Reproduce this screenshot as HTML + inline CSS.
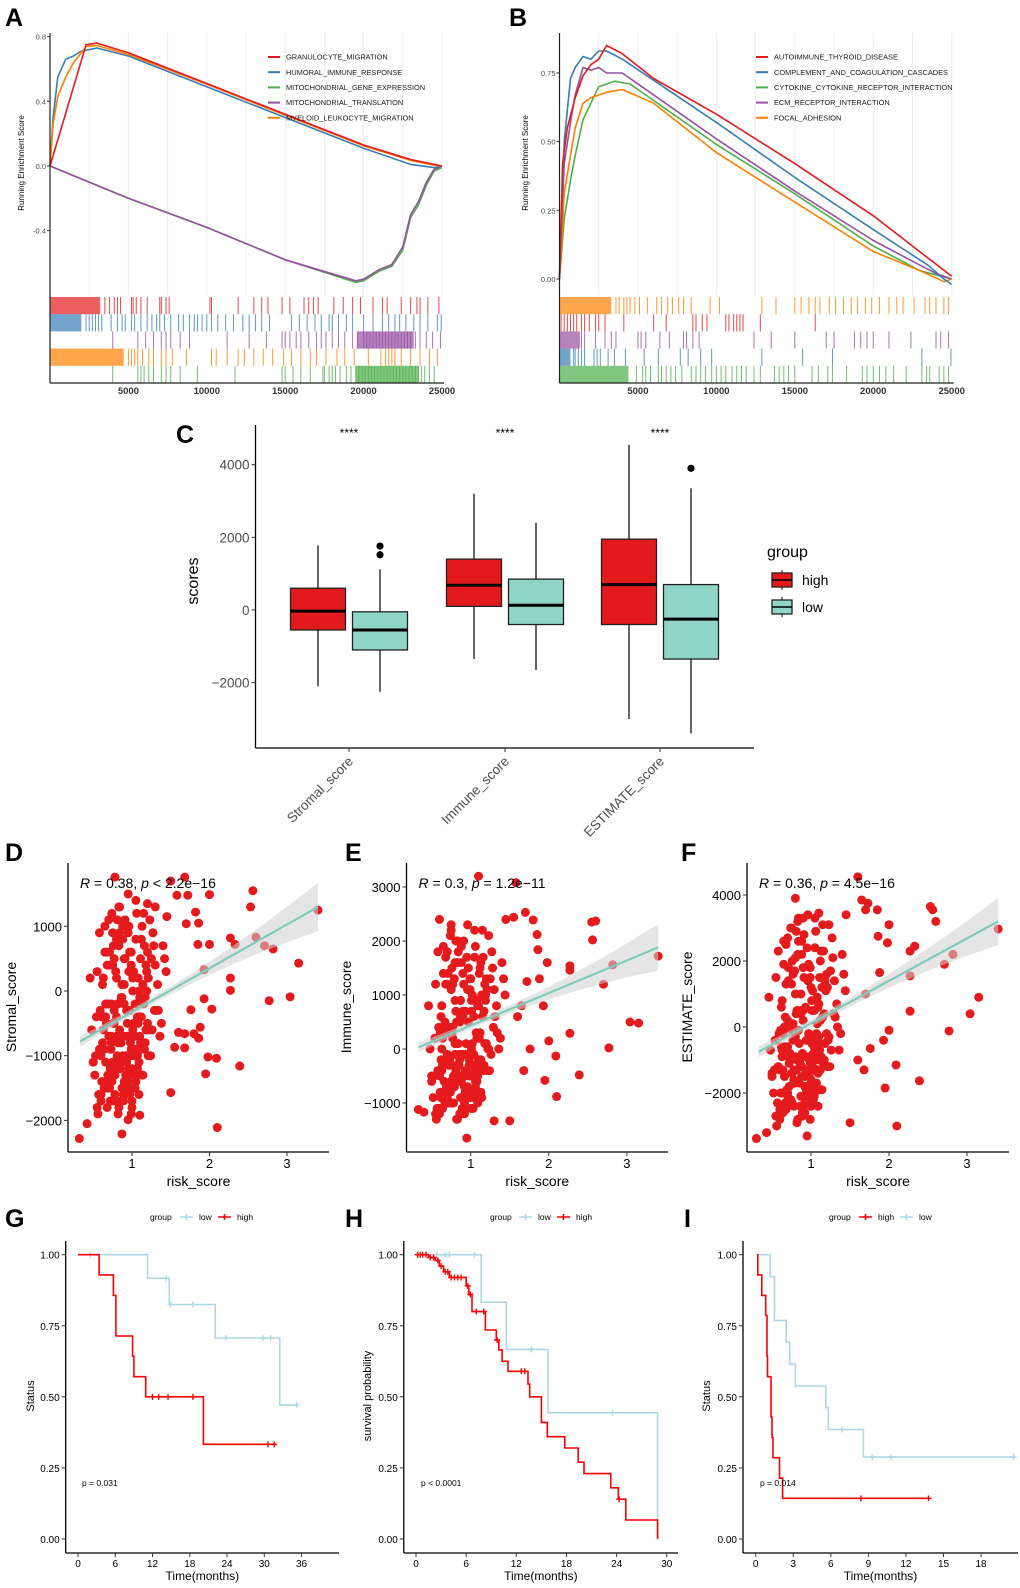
<!DOCTYPE html>
<html><head><meta charset="utf-8">
<style>
html,body{margin:0;padding:0;background:#fff;}
svg{display:block;font-family:"Liberation Sans",Arial,sans-serif;}
</style></head>
<body>
<svg id="fig" xmlns="http://www.w3.org/2000/svg" width="1020" height="1588" viewBox="0 0 1020 1588">
<rect x="0" y="0" width="1020" height="1588" fill="#fff"/>
</svg>
<script>
// ================= DATA =================
const aNames=["GRANULOCYTE_MIGRATION","HUMORAL_IMMUNE_RESPONSE","MITOCHONDRIAL_GENE_EXPRESSION","MITOCHONDRIAL_TRANSLATION","MYELOID_LEUKOCYTE_MIGRATION"];
const aColors=["#e41a1c","#377eb8","#4daf4a","#984ea3","#ff7f00"];
const aRankRed=[0,2300,3000,5000,10000,15000,20000,23000,24500,25000];
const aEsRed=[0,0.75,0.76,0.70,0.51,0.32,0.13,0.04,0.01,0];
const aRankBlue=[0,200,500,1000,1500,2000,3000,5000,10000,15000,20000,23000,24500,25000];
const aEsBlue=[0,0.30,0.55,0.66,0.68,0.71,0.73,0.68,0.49,0.30,0.11,0.01,-0.01,0];
const aRankOrange=[0,200,500,1000,1500,2000,2300,3000,5000,10000,15000,20000,23000,24500,25000];
const aEsOrange=[0,0.26,0.43,0.55,0.64,0.70,0.74,0.745,0.69,0.505,0.315,0.125,0.035,0.005,0];
const aRankPurple=[0,5000,10000,15000,19500,20000,21000,21800,22500,23000,23500,24000,24500,25000];
const aEsPurple=[0,-0.2,-0.38,-0.58,-0.71,-0.70,-0.64,-0.61,-0.5,-0.3,-0.22,-0.1,-0.02,0];
const aRankGreen=[0,5000,10000,15000,19500,20000,21000,21800,22500,23000,23500,24000,24500,25000];
const aEsGreen=[0,-0.2,-0.38,-0.58,-0.72,-0.71,-0.65,-0.62,-0.52,-0.32,-0.24,-0.12,-0.03,-0.01];
const aRugRed=[3500,3800,4100,4300,4500,5200,5300,5500,5800,6200,7000,7100,7400,7600,10200,10300,12000,13000,13500,13900,14800,15300,16200,16500,16800,17100,18100,18700,19300,19800,20600,21200,21500,22400,23000,23400,23600,24100,24800];
const aBlockRed=[[0,3200]];
const aRugBlue=[2300,2500,2700,2900,3100,3300,3900,4300,4600,4800,5200,5400,5800,6200,6500,6800,7000,7300,7700,8200,8500,8900,9200,9400,9700,10000,10300,10700,11200,11700,12300,12700,13100,13500,14000,15400,15900,16400,16900,17300,17800,18000,18400,18900,19300,20000,20600,21200,21600,22000,22300,22700,23200,23600,24100,24700,24950];
const aBlockBlue=[[0,2000]];
const aRugPurple=[4000,5600,6100,6600,7100,7400,7700,8300,8900,11300,12700,13800,14800,15000,15300,15700,16000,16500,17000,17300,17600,18000,18400,18800,19300,19600,20000,20200,20400,20600,20800,21000,21200,21400,21600,21800,22000,22200,22400,22600,22800,23000,23300,23600,24000,24400,24900];
const aBlockPurple=[[19600,23200]];
const aRugOrange=[5000,5200,5400,5600,5900,6300,6600,7100,7400,7800,8700,10300,10600,11300,12000,12400,13000,13600,14200,14900,15400,16000,16600,17000,17600,18300,18800,19400,20300,21100,21400,21600,21800,22000,22400,23000,23600,24200,24700];
const aBlockOrange=[[0,4700]];
const aRugGreen=[4000,5600,5800,6000,6300,6600,7100,7400,7700,8300,9400,11800,14800,15000,15500,16000,16600,17400,17500,17800,18000,18200,18500,18900,19200,19500,19700,19900,20100,20300,20500,20700,20900,21100,21300,21500,21700,21900,22100,22300,22500,22700,22900,23100,23300,23500,23700,23900,24200,24500];
const aBlockGreen=[[19500,23500]];

const bNames=["AUTOIMMUNE_THYROID_DISEASE","COMPLEMENT_AND_COAGULATION_CASCADES","CYTOKINE_CYTOKINE_RECEPTOR_INTERACTION","ECM_RECEPTOR_INTERACTION","FOCAL_ADHESION"];
const bRankRed=[0,200,500,1000,1500,2000,2500,2800,3000,4000,6000,10000,15000,20000,25000];
const bEsRed=[0,0.42,0.55,0.66,0.74,0.78,0.80,0.83,0.85,0.82,0.73,0.60,0.42,0.23,0.01];
const bRankBlue=[0,300,700,1000,1500,2000,2500,3000,4000,10000,15000,20000,23500,24500,25000];
const bEsBlue=[0,0.50,0.73,0.77,0.81,0.80,0.83,0.83,0.80,0.57,0.37,0.18,0.05,0,-0.02];
const bRankGreen=[0,300,700,1000,1500,2000,2500,3500,4500,10000,15000,20000,23000,25000];
const bEsGreen=[0,0.22,0.36,0.45,0.58,0.64,0.70,0.72,0.71,0.49,0.31,0.12,0.03,0];
const bRankPurple=[0,300,700,1000,1500,2000,2500,3000,4000,10000,15000,20000,23000,24000,25000];
const bEsPurple=[0,0.42,0.57,0.67,0.77,0.76,0.77,0.75,0.75,0.51,0.32,0.14,0.05,0.02,0];
const bRankOrange=[0,300,700,1000,1500,2000,3000,4000,6000,10000,15000,20000,23000,24500,25000];
const bEsOrange=[0,0.31,0.45,0.55,0.64,0.66,0.68,0.69,0.64,0.46,0.28,0.10,0.03,-0.01,0];
const bRugOrange=[3600,3800,4100,4300,4500,4800,5100,5600,6200,6500,6900,7200,7600,7900,8400,9600,10200,12900,13800,15000,15400,15900,16300,16600,17200,17600,18100,18600,19000,19500,19900,20400,21000,21500,21900,22600,23300,23600,24000,24500,24800];
const bBlockOrange=[[0,3300]];
const bRugRed=[0,100,300,500,700,900,1100,1400,1600,1900,2300,2500,2900,4100,6000,6800,8500,8700,9100,9400,10600,10800,11100,11300,11500,11700,12800,16300];
const bBlockRed=[];
const bRugPurple=[1400,1600,2300,2900,3300,3600,5000,5200,5500,6400,7000,7900,8100,8500,8900,12400,13500,15000,17000,17500,18800,19200,19600,20000,21000,22400,24000,24300,24800];
const bBlockPurple=[[0,1300]];
const bRugBlue=[900,1000,1200,1400,1600,2200,2400,2600,3100,3500,4200,5400,6300,7700,8200,9000,9700,12900,15500,17400,23100,24950];
const bBlockBlue=[[0,700]];
const bRugGreen=[4900,5300,5500,5800,6300,6500,6800,7100,7400,7800,8400,8700,9000,9300,9700,10000,10300,10600,11000,11300,11600,11900,12400,12800,13700,14000,14300,14600,15000,16100,16500,17100,17400,18300,19300,19600,20000,20400,20800,21300,22100,23100,23400,23600,24200,24500,24800];
const bBlockGreen=[[0,4400]];

const cCategories=["Stromal_score","Immune_score","ESTIMATE_score"];
const cHighQ=[[-2100,-550,-30,600,1780],[-1350,100,680,1400,3200],[-3000,-400,700,1950,4550]];
const cLowQ=[[-2250,-1100,-550,-50,1120],[-1650,-400,130,850,2400],[-3400,-1350,-250,700,3350]];
const cLowOutliers=[[1520,1760],[],[3900]];
const cYTicks=[-2000,0,2000,4000];

const cloudRisk=[0.48,0.52,0.55,0.58,0.6,0.62,0.64,0.66,0.68,0.7,0.71,0.73,0.75,0.77,0.79,0.8,0.82,0.84,0.86,0.88,0.9,0.92,0.94,0.96,0.98,1.0,1.02,1.04,1.06,1.08,1.1,1.12,1.14,1.17,1.2,1.23,1.26,1.3,1.34,1.4,0.56,0.6,0.63,0.67,0.7,0.72,0.74,0.76,0.78,0.8,0.83,0.85,0.87,0.89,0.91,0.93,0.95,0.97,0.99,1.01,1.03,1.05,1.07,1.09,1.11,1.13,1.16,1.19,1.22,1.25,0.5,0.57,0.61,0.65,0.69,0.72,0.75,0.78,0.81,0.84,0.87,0.9,0.93,0.96,0.99,1.02,1.05,1.08,1.11,1.15,1.18,1.21,1.28,1.33,1.38,1.44,0.62,0.68,0.74,0.8,0.86,0.92,0.98,1.04,1.1,0.66,0.76,0.88,0.94,1.0,0.7,0.82,0.9,0.97,1.06,0.64,0.78,0.92,1.0,1.12];
const cloudStromal=[-600,-1300,300,-900,-1600,100,-400,-1100,600,-200,-1500,-700,900,-300,-1200,200,-800,1300,-100,-1000,500,-1400,-500,1000,-700,-1800,300,-200,1200,-900,-400,800,-1300,-100,600,1100,-600,400,-300,700,-1900,-1000,200,-500,1100,-1700,-200,700,-1300,-400,1300,-800,-100,-1600,500,-1100,900,-300,-1900,200,-700,1400,-1200,0,-400,1000,-900,300,-600,500,-1100,-1600,-400,600,-1400,-900,400,-1100,-200,900,-1500,100,-700,-1200,600,-500,-1400,200,-800,-200,400,-1000,700,100,-500,300,-800,-1800,-1400,-700,-1700,-1300,-1000,-1500,-700,-200,-1700,800,-1500,-1200,-1500,-1900,-1600,-1600,-1300,-900,-1200,-1000,-1700,-900];
const cloudImmune=[0,-900,1200,-400,-1100,600,200,-600,1700,300,-1000,-200,2200,400,-700,900,-300,2000,500,-500,1400,-1200,100,2300,-300,-800,1000,600,1900,-600,200,1500,-900,700,1300,2100,-100,1100,300,1600,-1300,-500,800,-200,1800,-1000,400,1500,-700,100,2000,-300,600,-1100,1200,-400,1700,500,-900,900,-100,2200,-600,800,200,1600,-400,1000,0,1300,-600,-1100,300,1400,-800,-300,1100,-500,700,1800,-900,700,-100,-700,1300,100,-800,900,-300,600,1200,-400,1500,800,200,1000,-200,-1000,-800,-100,-1200,-700,-400,-900,-200,400,-1000,1600,-800,-500,-1000,-1300,-1100,-900,-600,-300,-700,-500,-1100,-400];
const cloudEstimate=[-700,-2000,1500,-1200,-2500,600,-200,-1500,2500,200,-2200,-800,3000,100,-1700,1000,-1000,3300,500,-1200,1800,-2600,-400,3400,-900,-2400,1100,500,2900,-1300,-300,2000,-1900,400,1600,3100,-700,1400,0,2200,-3000,-1300,800,-600,2700,-2300,100,2000,-1600,-300,3200,-1000,400,-2700,1500,-1400,2400,-200,-2800,800,-800,3300,-1700,600,-500,2300,-1100,1200,-400,1700,-1400,-2300,-100,1900,-2000,-1100,1300,-1300,400,2600,-2100,500,-900,-1800,1800,-400,-2000,900,-700,300,1400,-1200,2100,700,-200,1100,-600,-2500,-2200,-900,-2400,-1800,-1400,-2100,-1000,0,-2300,2200,-1900,-1600,-2100,-2900,-2400,-2200,-1800,-1300,-1700,-1500,-2400,-1300];
const cloudRisk2=[0.46,0.5,0.54,0.58,0.61,0.63,0.65,0.67,0.69,0.71,0.73,0.74,0.76,0.78,0.79,0.81,0.83,0.85,0.87,0.89,0.91,0.93,0.95,0.97,0.99,1.01,1.03,1.05,1.07,1.09,1.11,1.13,1.15,1.18,1.21,1.24,1.27,1.31,1.36,1.42,0.53,0.59,0.64,0.68,0.72,0.77,0.81,0.86,0.9,0.95,1.0,1.05,1.1,1.16,1.23,0.6,0.66,0.71,0.76,0.82,0.88,0.93,0.99,1.04,1.09,1.14,1.2,0.55,0.63,0.7,0.75,0.8,0.85,0.9,0.96,1.02,1.08,1.13,1.19,1.29,0.67,0.73,0.79,0.84,0.89,0.94,0.98,1.03,1.07,1.12,0.62,0.7,0.77,0.83,0.88,0.92,0.97,1.01,1.06,1.17];
const cloudStromal2=[200,-1100,-400,900,-1400,-600,1000,-200,-1300,400,-800,1200,-500,-1600,300,-1000,700,-1200,100,-700,1100,-300,-1500,600,-900,0,-1300,800,-400,-1100,500,-800,1200,-600,200,-1000,900,-300,-700,500,-1000,-300,-1500,400,-1200,-500,1100,-800,-200,-1400,300,-900,-100,700,-600,-1700,-400,600,-1100,-200,1000,-1300,400,-700,-1600,100,-500,-1800,-900,-1400,-1100,800,-700,-1400,300,-1000,-500,-1300,0,-300,-1500,-900,-1200,-600,-1700,-1300,-800,-1500,-1000,-400,-1400,-700,500,-1800,-1100,-1500,-1000,-600,-1200,-800];
const cloudImmune2=[800,-500,200,1800,-800,0,1900,500,-700,1200,-200,2100,300,-1000,1300,-400,1600,-600,900,-100,2000,700,-900,1500,-300,700,-800,1700,300,-500,1400,-200,2200,100,1100,-400,1800,600,0,1300,-500,400,-1100,1200,-700,200,2000,-200,600,-900,1300,-300,800,1700,0,-1200,300,1400,-600,500,1900,-800,1100,-100,-1000,1000,100,-1200,-400,-900,-600,1600,-100,-900,1100,-400,200,-800,900,400,-1000,-300,-700,100,-1200,-800,-200,-1100,-500,300,-900,-100,1200,-1300,-600,-1000,-500,0,-700,-300];
const cloudEstimate2=[900,-1500,-400,2300,-2000,-700,2600,300,-1900,1400,-1000,3000,-100,-2400,1700,-1300,2200,-1700,1000,-800,2800,600,-2200,1900,-1100,500,-1900,2400,-200,-1400,1500,-900,3100,-500,1200,-1200,2700,300,-700,1600,-1300,-200,-2600,1300,-1800,-400,2900,-1100,200,-2100,1200,-1000,700,2300,-300,-2800,-100,1800,-1400,500,2600,-1800,1500,-600,-2400,1200,-200,-2700,-900,-2000,-1400,2100,-500,-2100,1400,-1200,100,-1900,1100,400,-2300,-900,-1700,-100,-2600,-1900,-1000,-2200,-1300,200,-2000,-600,1600,-2800,-1500,-2300,-1300,-500,-1800,-1000];
const dOutRisk=[3.4,3.15,3.04,2.77,2.82,2.71,2.6,2.56,2.53,2.33,2.27,2.27,2.27,2.39,2.1,2.09,1.98,1.95,2.0,2.0,2.03,1.93,1.88,1.93,1.85,1.86,1.82,1.8,1.86,1.76,1.68,1.68,1.6,1.55,1.5,1.7,1.72,1.68,1.5,1.58,0.32,0.42,0.87,0.95,1.1,0.78,0.95,1.45,1.3,1.2];
const dOutStromal=[1250,430,-90,-150,650,700,830,1550,1300,720,820,200,10,-1160,-2110,-1040,-1020,-1280,720,1490,-280,-120,-560,330,720,1050,1220,-660,-730,-290,-660,-880,-640,-870,-1570,1040,1480,1760,1700,1480,-2280,-2050,-2210,-1990,-1920,1760,1500,1150,1300,1350];
const eOutRisk=[3.4,3.15,3.04,2.77,2.82,2.7,2.6,2.55,2.56,2.27,2.27,2.27,2.39,2.1,2.09,1.95,1.98,2.0,1.93,1.88,1.86,1.85,1.8,1.7,1.55,1.58,1.1,1.5,1.3,0.95,0.33,0.4,1.76,1.68,1.6,1.65,1.72,1.45,0.6,0.75];
const eOutImmune=[1720,480,500,20,1560,1200,2370,2350,2020,1540,1460,290,-480,-880,-130,-580,1600,150,800,1300,1840,2120,2390,2530,2440,3080,3200,-1330,-1330,-1650,-1120,-1170,0,-400,600,800,1250,2400,2400,2300];
const fOutRisk=[3.4,3.15,3.04,2.77,2.82,2.71,2.6,2.56,2.53,2.33,2.27,2.27,2.27,2.39,2.1,2.09,1.95,1.98,2.0,1.93,1.88,1.86,1.85,1.73,1.7,1.65,1.6,0.8,1.5,0.3,0.43,0.95,1.76,1.68,1.6,1.7,2.0,1.45,1.1,0.9];
const fOutEstimate=[2970,900,400,-120,2200,1900,3200,3550,3650,2450,2300,1550,480,-1630,-3000,-1150,-1850,2550,-100,-400,1650,2750,3550,3750,3550,3850,4550,3900,-2900,-3380,-3200,-3300,-650,-1300,-1000,1000,3100,3400,3450,3300];
const fitSlope=[677,603,1287];
const fitIntercept=[-1003,-169,-1175];

const gLowT=[0,11.2,14.7,22.1,32.5], gLowS=[1,0.917,0.825,0.707,0.471], gLowEnd=35.5;
const gLowCens=[2,14.2,14.9,18.5,23.8,29.8,31,35.2];
const gHighT=[0,3.4,5.7,6.1,8.8,9.0,10.9,20.2], gHighS=[1,0.929,0.857,0.714,0.643,0.571,0.5,0.333], gHighEnd=31.8;
const gHighCens=[12,13,14.5,18.5,30.6,31.6];
const hLowT=[0,7.8,10.8,15.8,28.9], hLowS=[1,0.833,0.667,0.444,0.0], hLowEnd=28.9;
const hLowCens=[2.5,3.5,4,7,13.8,23.5];
const hHighT=[0,1.5,2.3,2.8,3.3,4.0,6.0,6.3,6.7,8.3,9.6,9.9,10.3,11,13.4,13.6,15.0,15.7,17.8,19.4,20.1,23.3,24.2,25.1,28.9], hHighS=[1,0.99,0.98,0.96,0.94,0.92,0.89,0.86,0.80,0.735,0.70,0.665,0.625,0.59,0.545,0.50,0.41,0.36,0.32,0.27,0.23,0.18,0.14,0.067,0.0], hHighEnd=28.9;
const hHighCens=[0.2,0.5,0.8,1.2,1.7,2.1,2.6,3.0,3.5,3.8,4.2,4.6,5.0,5.4,6.2,6.5,7.2,8.1,9.7,12.6,13.0,24.3];
const iLowT=[0,1.15,1.5,2.44,2.72,3.17,5.6,5.8,8.6], iLowS=[1,0.923,0.769,0.692,0.615,0.538,0.462,0.385,0.288], iLowEnd=20.7;
const iLowCens=[6.9,9.3,10.8,20.6];
const iHighT=[0.1,0.17,0.49,0.8,0.9,0.94,1.22,1.3,1.38,1.9,2.15], iHighS=[1,0.929,0.857,0.786,0.643,0.571,0.429,0.357,0.286,0.214,0.143], iHighEnd=13.8;
const iHighCens=[8.4,13.8];

// ================= HELPERS =================
const NS='http://www.w3.org/2000/svg';
const svg=document.getElementById('fig');
function mk(tag,attrs,parent){const e=document.createElementNS(NS,tag);for(const k in attrs)e.setAttribute(k,attrs[k]);(parent||svg).appendChild(e);return e;}
function tx(x,y,s,size,anchor,extra,parent){const e=mk('text',Object.assign({x:x,y:y,'font-size':size,'text-anchor':anchor||'start',fill:'#000'},extra||{}),parent);e.textContent=s;return e;}
function grp(){return mk('g',{});}

function gsea(cfg){
  const g=grp();
  
  
  const sx=r=>cfg.x0+r/25000*(cfg.x1-cfg.x0);
  const sy=v=>cfg.y0-v*cfg.k;
  for(let r=2500;r<=25000;r+=2500){
    const l=mk('line',{x1:sx(r),x2:sx(r),y1:cfg.top,y2:cfg.plotBot,stroke:'#ebebeb','stroke-width':1},g);
    
    
  }
  cfg.curves.forEach((c,i)=>{
    const pts=c.r.map((r,j)=>sx(r).toFixed(1)+','+sy(c.v[j]).toFixed(1)).join(' ');
    const p=mk('polyline',{points:pts,fill:'none',stroke:c.color,'stroke-width':1.6,'stroke-linejoin':'round'},g);
    
    
  });
  cfg.rugs.forEach((rg,i)=>{
    const yT=cfg.rugTop+i*cfg.rowH, yB=yT+cfg.rowH;
    rg.blocks.forEach(b=>{
      const rc=mk('rect',{x:sx(b[0]),y:yT,width:sx(b[1])-sx(b[0]),height:cfg.rowH,fill:rg.color,opacity:0.7},g);
      
      
    });
    rg.ticks.forEach(r=>{
      const l=mk('line',{x1:sx(r),x2:sx(r),y1:yT,y2:yB,stroke:rg.color,'stroke-width':1,opacity:0.8},g);
      
      
    });
  });
  const ya=mk('line',{x1:cfg.x0,x2:cfg.x0,y1:cfg.top,y2:cfg.axisY,stroke:'#222','stroke-width':1.2},g);
  
  
  const xa=mk('line',{x1:cfg.x0,x2:cfg.x1+2,y1:cfg.axisY,y2:cfg.axisY,stroke:'#222','stroke-width':1.2},g);
  
  
  [5000,10000,15000,20000,25000].forEach(r=>{
    const t=tx(sx(r),cfg.axisY+11,String(r),9.5,'middle',{'font-weight':'bold',fill:'#333'},g);
    
    
  });
  cfg.yTicks.forEach((v,i)=>{
    mk('line',{x1:cfg.x0-3,x2:cfg.x0,y1:sy(v),y2:sy(v),stroke:'#333'},g);
    const t=tx(cfg.x0-4,sy(v)+3,cfg.yLabels[i],7.5,'end',{fill:'#4d4d4d'},g);
    
    
  });
  const yl=tx(0,0,'Running Enrichment Score',8,'middle',{transform:`translate(${cfg.ylabX},${cfg.ylabY}) rotate(-90)`},g);
  
  
  cfg.legend.forEach((n,i)=>{
    const yy=cfg.legY+i*15.2;
    const le=mk('g',{},g);
    
    
    mk('line',{x1:cfg.legX,x2:cfg.legX+12,y1:yy,y2:yy,stroke:cfg.curves[cfg.legendColorIdx[i]].color,'stroke-width':2},le);
    tx(cfg.legX+18,yy+2.6,n,7.4,'start',{fill:'#1a1a1a'},le);
  });
  const L=tx(cfg.letterX,26,cfg.letter,25,'start',{'font-weight':'bold'},g);
  
  
}

gsea({name:'panel-a-gsea',letter:'A',letterX:5,x0:50,x1:442,y0:166,k:161.7,top:33,plotBot:295,rugTop:297,rowH:17.2,axisY:383,
  yTicks:[0.8,0.4,0,-0.4],yLabels:['0.8','0.4','0.0','-0.4'],ylabX:24,ylabY:163,legX:268,legY:57,
  legend:aNames,legendColorIdx:[4,2,0,1,3],
  curves:[
    {r:aRankGreen,v:aEsGreen,color:aColors[2]},
    {r:aRankPurple,v:aEsPurple,color:aColors[3]},
    {r:aRankBlue,v:aEsBlue,color:aColors[1]},
    {r:aRankOrange,v:aEsOrange,color:aColors[4]},
    {r:aRankRed,v:aEsRed,color:aColors[0]}],
  rugs:[{ticks:aRugRed,blocks:aBlockRed,color:aColors[0]},{ticks:aRugBlue,blocks:aBlockBlue,color:aColors[1]},{ticks:aRugPurple,blocks:aBlockPurple,color:aColors[3]},{ticks:aRugOrange,blocks:aBlockOrange,color:aColors[4]},{ticks:aRugGreen,blocks:aBlockGreen,color:aColors[2]}]
});
gsea({name:'panel-b-gsea',letter:'B',letterX:509,x0:559.5,x1:951.7,y0:279,k:274.7,top:33,plotBot:295,rugTop:297,rowH:17.2,axisY:383,
  yTicks:[0,0.25,0.5,0.75],yLabels:['0.00','0.25','0.50','0.75'],ylabX:528,ylabY:163,legX:756,legY:57,
  legend:bNames,legendColorIdx:[4,3,0,1,2],
  curves:[
    {r:bRankGreen,v:bEsGreen,color:aColors[2]},
    {r:bRankPurple,v:bEsPurple,color:aColors[3]},
    {r:bRankOrange,v:bEsOrange,color:aColors[4]},
    {r:bRankBlue,v:bEsBlue,color:aColors[1]},
    {r:bRankRed,v:bEsRed,color:aColors[0]}],
  rugs:[{ticks:bRugOrange,blocks:bBlockOrange,color:aColors[4]},{ticks:bRugRed,blocks:bBlockRed,color:aColors[0]},{ticks:bRugPurple,blocks:bBlockPurple,color:aColors[3]},{ticks:bRugBlue,blocks:bBlockBlue,color:aColors[1]},{ticks:bRugGreen,blocks:bBlockGreen,color:aColors[2]}]
});

(function(){
  const g=grp();
  
  
  const left=255.5,right=754,bottom=748,top=425;
  const sy=v=>610-v*0.03633;
  const catX=[349,505,660];
  const off=31, bw=55;
  const yax=mk('line',{x1:left,x2:left,y1:top,y2:bottom,stroke:'#000','stroke-width':1.3},g);
  
  
  const xax=mk('line',{x1:left,x2:right,y1:bottom,y2:bottom,stroke:'#000','stroke-width':1.3},g);
  
  
  cYTicks.forEach(v=>{
    mk('line',{x1:left-4,x2:left,y1:sy(v),y2:sy(v),stroke:'#333'},g);
    const t=tx(left-6,sy(v)+5,v<0?'\u2212'+Math.abs(v):String(v),13.5,'end',{fill:'#4d4d4d'},g);
    
    
  });
  function box(cx,q,fill,outs){
    const b=mk('g',{},g);
    
    
    mk('line',{x1:cx,x2:cx,y1:sy(q[0]),y2:sy(q[4]),stroke:'#000','stroke-width':1.2},b);
    mk('rect',{x:cx-bw/2,y:sy(q[3]),width:bw,height:sy(q[1])-sy(q[3]),fill:fill,stroke:'#222','stroke-width':1.3},b);
    mk('line',{x1:cx-bw/2,x2:cx+bw/2,y1:sy(q[2]),y2:sy(q[2]),stroke:'#000','stroke-width':3},b);
    (outs||[]).forEach(o=>{mk('circle',{cx:cx,cy:sy(o),r:3.6,fill:'#000'},b);});
  }
  cCategories.forEach((c,i)=>{
    box(catX[i]-off,cHighQ[i],'#e31a1c',[]);
    box(catX[i]+off,cLowQ[i],'#8fd6c8',cLowOutliers[i]);
    mk('line',{x1:catX[i],x2:catX[i],y1:bottom,y2:bottom+4,stroke:'#333'},g);
    const t=tx(0,0,c,13.5,'end',{fill:'#4d4d4d',transform:`translate(${catX[i]+5},${bottom+14}) rotate(-45)`},g);
    
    
    const s=tx(catX[i],437,'****',12,'middle',{},g);
    
    
  });
  const yt=tx(0,0,'scores',16,'middle',{transform:'translate(198,581) rotate(-90)'},g);
  
  
  const lg=mk('g',{},g);
  
  
  tx(767,557,'group',16,'start',{},lg);
  [['high','#e31a1c',580],['low','#8fd6c8',607]].forEach(a=>{
    const e=mk('g',{},lg);
    
    
    mk('line',{x1:782,x2:782,y1:a[2]-10,y2:a[2]+10,stroke:'#000'},e);
    mk('rect',{x:772,y:a[2]-7,width:20,height:14,fill:a[1],stroke:'#222','stroke-width':1.3},e);
    mk('line',{x1:772,x2:792,y1:a[2],y2:a[2],stroke:'#000','stroke-width':1.5},e);
    tx(802,a[2]+5,a[0],14,'start',{},e);
  });
  const L=tx(176,443,'C',25,'start',{'font-weight':'bold'},g);
  
  
})();

function scatter(cfg){
  const g=grp();
  
  
  const sx=v=>cfg.xz+v*cfg.kx;
  const sy=v=>cfg.yz-v*cfg.ky;
  const xs=[0.33,0.6,0.9,1.2,1.5,1.8,2.1,2.4,2.7,3.0,3.4];
  const hw=x=>cfg.band[0]+cfg.band[1]*(x-1.05)*(x-1.05);
  const fit=x=>cfg.slope*x+cfg.inter;
  const up=xs.map(x=>sx(x).toFixed(1)+','+sy(fit(x)+hw(x)).toFixed(1));
  const dn=xs.slice().reverse().map(x=>sx(x).toFixed(1)+','+sy(fit(x)-hw(x)).toFixed(1));
  cfg.sets.forEach(st=>{
    st[0].forEach((x,i)=>{
      const c=mk('circle',{cx:sx(x),cy:sy(st[1][i]),r:4.5,fill:'#e41a1c'},g);
      
      
    });
  });
  const band=mk('polygon',{points:up.concat(dn).join(' '),fill:'#cfcfcf',opacity:0.55},g);
  
  
  const fl=mk('line',{x1:sx(0.33),y1:sy(fit(0.33)),x2:sx(3.4),y2:sy(fit(3.4)),stroke:'#7fcdbb','stroke-width':2.2},g);
  
  
  const ya=mk('line',{x1:cfg.left,x2:cfg.left,y1:863,y2:1152,stroke:'#000','stroke-width':1.3},g);
  
  
  const xa=mk('line',{x1:cfg.left,x2:cfg.right,y1:1152,y2:1152,stroke:'#000','stroke-width':1.3},g);
  
  
  cfg.yt.forEach(v=>{
    mk('line',{x1:cfg.left-4,x2:cfg.left,y1:sy(v),y2:sy(v),stroke:'#333'},g);
    const t=tx(cfg.left-6,sy(v)+5,v<0?'\u2212'+Math.abs(v):String(v),13,'end',{},g);
    
    
  });
  [1,2,3].forEach(v=>{
    mk('line',{x1:sx(v),x2:sx(v),y1:1152,y2:1156,stroke:'#333'},g);
    const t=tx(sx(v),1168,String(v),13,'middle',{},g);
    
    
  });
  const xt=tx((cfg.left+cfg.right)/2,1186,'risk_score',14,'middle',{},g);
  
  
  const yt=tx(0,0,cfg.ytitle,14,'middle',{transform:`translate(${cfg.ytx},1007) rotate(-90)`},g);
  
  
  const st=mk('text',{x:cfg.left+12,y:888,'font-size':14,fill:'#000'},g);
  
  
  st.innerHTML=cfg.stat;
  const L=tx(cfg.lx,861,cfg.letter,25,'start',{'font-weight':'bold'},g);
  
  
}
scatter({name:'panel-d-scatter',letter:'D',lx:5,left:68,right:329,xz:54.5,kx:77.5,yz:991,ky:0.0647,yt:[-2000,-1000,0,1000],
  sets:[[cloudRisk,cloudStromal],[cloudRisk2,cloudStromal2],[dOutRisk,dOutStromal]],slope:fitSlope[0],inter:fitIntercept[0],band:[50,59],
  ytitle:'Stromal_score',ytx:16,stat:'<tspan font-style="italic">R</tspan> = 0.38, <tspan font-style="italic">p</tspan> &lt; 2.2e\u221216'});
scatter({name:'panel-e-scatter',letter:'E',lx:345,left:406.5,right:668,xz:392.6,kx:78.1,yz:1049,ky:0.054,yt:[-1000,0,1000,2000,3000],
  sets:[[cloudRisk,cloudImmune],[cloudRisk2,cloudImmune2],[eOutRisk,eOutImmune]],slope:fitSlope[1],inter:fitIntercept[1],band:[60,67],
  ytitle:'Immune_score',ytx:351,stat:'<tspan font-style="italic">R</tspan> = 0.3, <tspan font-style="italic">p</tspan> = 1.2e\u221211'});
scatter({name:'panel-f-scatter',letter:'F',lx:681,left:747,right:1009,xz:733,kx:78,yz:1027,ky:0.033,yt:[-2000,0,2000,4000],
  sets:[[cloudRisk,cloudEstimate],[cloudRisk2,cloudEstimate2],[fOutRisk,fOutEstimate]],slope:fitSlope[2],inter:fitIntercept[2],band:[110,110],
  ytitle:'ESTIMATE_score',ytx:692,stat:'<tspan font-style="italic">R</tspan> = 0.36, <tspan font-style="italic">p</tspan> = 4.5e\u221216'});

function km(cfg){
  const g=grp();
  
  
  const sx=t=>cfg.x0+t*cfg.kx;
  const sy=s=>1539-s*284.3;
  const ya=mk('line',{x1:cfg.left,x2:cfg.left,y1:1241,y2:1553,stroke:'#000','stroke-width':1.3},g);
  
  
  const xa=mk('line',{x1:cfg.left,x2:cfg.right,y1:1553,y2:1553,stroke:'#000','stroke-width':1.3},g);
  
  
  [0,0.25,0.5,0.75,1].forEach(v=>{
    mk('line',{x1:cfg.left-4,x2:cfg.left,y1:sy(v),y2:sy(v),stroke:'#333'},g);
    const t=tx(cfg.left-6,sy(v)+4,v.toFixed(2),10,'end',{},g);
    
    
  });
  cfg.xt.forEach(v=>{
    mk('line',{x1:sx(v),x2:sx(v),y1:1553,y2:1557,stroke:'#333'},g);
    const t=tx(sx(v),1567,String(v),10,'middle',{},g);
    
    
  });
  cfg.series.forEach(s=>{
    let d=`M${sx(s.t[0]).toFixed(1)},${sy(s.s[0]).toFixed(1)}`;
    for(let i=1;i<s.t.length;i++){d+=` H${sx(s.t[i]).toFixed(1)} V${sy(s.s[i]).toFixed(1)}`;}
    d+=` H${sx(s.end).toFixed(1)}`;
    const p=mk('path',{d:d,fill:'none',stroke:s.color,'stroke-width':1.6},g);
    
    
    s.cens.forEach(c=>{
      let v=s.s[0];
      for(let i=0;i<s.t.length;i++){if(s.t[i]<=c)v=s.s[i];}
      const m=mk('path',{d:`M${sx(c)-3},${sy(v)} h6 M${sx(c)},${sy(v)-3} v6`,stroke:s.color,'stroke-width':1.4},g);
      
      
    });
  });
  const lg=mk('g',{},g);
  
  
  tx(cfg.legX,1220,'group',8.5,'start',{},lg);
  cfg.legItems.forEach(it=>{
    const e=mk('g',{},lg);
    
    
    mk('path',{d:`M${it[0]},1217 h13 M${it[0]+6.5},1214 v6`,stroke:it[2],'stroke-width':1.6},e);
    tx(it[0]+19,1220,it[1],8.5,'start',{},e);
  });
  const pv=tx(cfg.pX,1486,cfg.p,8.5,'start',{},g);
  
  
  const xt=tx((cfg.left+cfg.right)/2,1580,'Time(months)',12,'middle',{},g);
  
  
  const yt=tx(0,0,cfg.ytitle,11,'middle',{transform:`translate(${cfg.ytx},1396) rotate(-90)`},g);
  
  
  const L=tx(cfg.lx,1227,cfg.letter,25,'start',{'font-weight':'bold'},g);
  
  
}
const RED='#ff0000', LB='#add8e6';
km({name:'panel-g-km',letter:'G',lx:5,left:65.7,right:339,x0:78,kx:6.21,xt:[0,6,12,18,24,30,36],ytitle:'Status',ytx:34,p:'p = 0.031',pX:82,
  legX:150,legItems:[[180,'low',LB],[218,'high',RED]],
  series:[{label:'low',t:gLowT,s:gLowS,end:gLowEnd,cens:gLowCens,color:LB},{label:'high',t:gHighT,s:gHighS,end:gHighEnd,cens:gHighCens,color:RED}]});
km({name:'panel-h-km',letter:'H',lx:345,left:403.8,right:678,x0:416,kx:8.36,xt:[0,6,12,18,24,30],ytitle:'survival probability',ytx:371,p:'p < 0.0001',pX:421,
  legX:490,legItems:[[519,'low',LB],[557,'high',RED]],
  series:[{label:'low',t:hLowT,s:hLowS,end:hLowEnd,cens:hLowCens,color:LB},{label:'high',t:hHighT,s:hHighS,end:hHighEnd,cens:hHighCens,color:RED}]});
km({name:'panel-i-km',letter:'I',lx:684,left:743,right:1018,x0:755.7,kx:12.52,xt:[0,3,6,9,12,15,18],ytitle:'Status',ytx:710,p:'p = 0.014',pX:760,
  legX:829,legItems:[[859,'high',RED],[900,'low',LB]],
  series:[{label:'low',t:iLowT,s:iLowS,end:iLowEnd,cens:iLowCens,color:LB},{label:'high',t:iHighT,s:iHighS,end:iHighEnd,cens:iHighCens,color:RED}]});
</script>
</body></html>
